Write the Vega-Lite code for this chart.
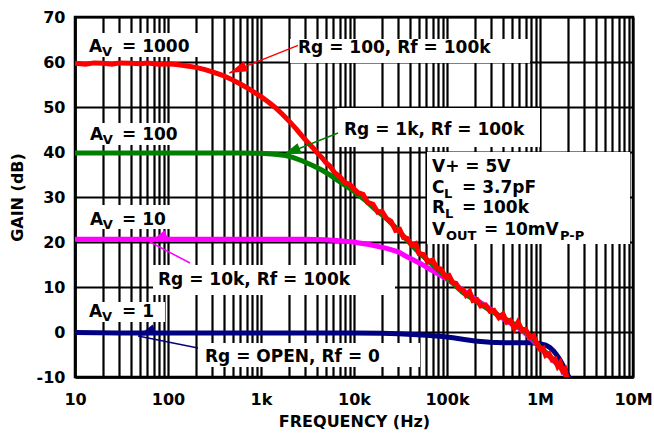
{
  "$schema": "https://vega.github.io/schema/vega-lite/v6.json",
  "width": 558,
  "height": 360,
  "autosize": {"type": "none"},
  "padding": {"left": 75, "top": 17, "right": 21, "bottom": 56},
  "background": "white",
  "config": {
    "font": "DejaVu Sans",
    "view": {"stroke": "black", "strokeWidth": 2.5},
    "axis": {
      "domainColor": "black", "domainWidth": 2.5,
      "gridColor": "black", "gridWidth": 2.2, "gridOpacity": 1,
      "ticks": false,
      "labelFont": "DejaVu Sans", "labelFontWeight": "bold", "labelFontSize": 16, "labelColor": "black",
      "titleFont": "DejaVu Sans", "titleFontWeight": "bold", "titleFontSize": 16, "titleColor": "black",
      "labelOverlap": false, "labelFlush": false
    }
  },
  "datasets": {
    "curves": [
      {"s":"A1","f":10,"g":-0.1},{"s":"A1","f":30,"g":-0.2},{"s":"A1","f":100,"g":-0.2},{"s":"A1","f":1000,"g":-0.2},{"s":"A1","f":10000,"g":-0.2},{"s":"A1","f":20000,"g":-0.3},{"s":"A1","f":30000,"g":-0.4},{"s":"A1","f":60000,"g":-0.7},{"s":"A1","f":90000,"g":-1.0},{"s":"A1","f":116000,"g":-1.3},{"s":"A1","f":160000,"g":-1.7},{"s":"A1","f":200000,"g":-2.0},{"s":"A1","f":290000,"g":-2.3},{"s":"A1","f":400000,"g":-2.4},{"s":"A1","f":600000,"g":-2.4},{"s":"A1","f":800000,"g":-2.4},{"s":"A1","f":1000000,"g":-2.6},{"s":"A1","f":1150000,"g":-2.9},{"s":"A1","f":1270000,"g":-3.4},{"s":"A1","f":1400000,"g":-4.2},{"s":"A1","f":1500000,"g":-5.0},{"s":"A1","f":1640000,"g":-6.2},{"s":"A1","f":1850000,"g":-8.2},{"s":"A1","f":2060000,"g":-10.2},
      {"s":"A10","f":10,"g":20.6},{"s":"A10","f":100,"g":20.6},{"s":"A10","f":1000,"g":20.6},{"s":"A10","f":3000,"g":20.6},{"s":"A10","f":5000,"g":20.5},{"s":"A10","f":7000,"g":20.3},{"s":"A10","f":9800,"g":20.0},{"s":"A10","f":15000,"g":19.4},{"s":"A10","f":22400,"g":18.6},{"s":"A10","f":30000,"g":17.8},{"s":"A10","f":35000,"g":17.0},{"s":"A10","f":51000,"g":15.3},{"s":"A10","f":65000,"g":14.0},{"s":"A10","f":80000,"g":12.9},{"s":"A10","f":116000,"g":10.9},{"s":"A10","f":180000,"g":8.0},{"s":"A10","f":270000,"g":5.6},{"s":"A10","f":350000,"g":3.8},{"s":"A10","f":480000,"g":2.0},{"s":"A10","f":600000,"g":0.8},{"s":"A10","f":800000,"g":-1.4},{"s":"A10","f":1000000,"g":-3.6},{"s":"A10","f":1200000,"g":-5.0},{"s":"A10","f":1400000,"g":-6.4},{"s":"A10","f":1640000,"g":-7.8},{"s":"A10","f":1950000,"g":-10.0},
      {"s":"A100","f":10,"g":39.8},{"s":"A100","f":100,"g":39.8},{"s":"A100","f":300,"g":39.8},{"s":"A100","f":600,"g":39.8},{"s":"A100","f":1000,"g":39.7},{"s":"A100","f":1400,"g":39.5},{"s":"A100","f":1740,"g":39.3},{"s":"A100","f":2200,"g":38.8},{"s":"A100","f":2800,"g":38.0},{"s":"A100","f":3600,"g":37.0},{"s":"A100","f":4500,"g":36.0},{"s":"A100","f":5500,"g":34.9},{"s":"A100","f":7000,"g":33.4},{"s":"A100","f":9800,"g":31.4},{"s":"A100","f":13000,"g":29.4},{"s":"A100","f":17000,"g":27.2},{"s":"A100","f":22400,"g":25.2},{"s":"A100","f":30000,"g":22.6},{"s":"A100","f":37300,"g":20.4},{"s":"A100","f":50000,"g":17.6},{"s":"A100","f":60000,"g":16.2},{"s":"A100","f":78000,"g":14.0},{"s":"A100","f":100000,"g":12.0},{"s":"A100","f":148000,"g":8.8},{"s":"A100","f":200000,"g":7.0},{"s":"A100","f":290000,"g":4.8},{"s":"A100","f":400000,"g":3.2},{"s":"A100","f":610000,"g":1.0},{"s":"A100","f":800000,"g":-1.0},{"s":"A100","f":1000000,"g":-3.4},{"s":"A100","f":1200000,"g":-4.8},{"s":"A100","f":1400000,"g":-6.2},{"s":"A100","f":1640000,"g":-7.6},{"s":"A100","f":1800000,"g":-8.6},{"s":"A100","f":1950000,"g":-10.0},
      {"s":"A1000","f":10,"g":59.7},{"s":"A1000","f":13,"g":59.5},{"s":"A1000","f":16,"g":59.8},{"s":"A1000","f":20,"g":59.7},{"s":"A1000","f":25,"g":59.5},{"s":"A1000","f":30,"g":59.8},{"s":"A1000","f":40,"g":59.7},{"s":"A1000","f":50,"g":59.6},{"s":"A1000","f":60,"g":59.8},{"s":"A1000","f":80,"g":59.5},{"s":"A1000","f":100,"g":59.6},{"s":"A1000","f":130,"g":59.4},{"s":"A1000","f":160,"g":59.1},{"s":"A1000","f":200,"g":58.8},{"s":"A1000","f":250,"g":58.3},{"s":"A1000","f":300,"g":57.8},{"s":"A1000","f":380,"g":57.1},{"s":"A1000","f":464,"g":56.3},{"s":"A1000","f":600,"g":55.1},{"s":"A1000","f":759,"g":53.9},{"s":"A1000","f":1000,"g":52.3},{"s":"A1000","f":1200,"g":51.1},{"s":"A1000","f":1400,"g":50.0},{"s":"A1000","f":1700,"g":48.4},{"s":"A1000","f":2040,"g":46.7},{"s":"A1000","f":2400,"g":45.1},{"s":"A1000","f":2700,"g":43.8},{"s":"A1000","f":3100,"g":42.4},{"s":"A1000","f":3630,"g":40.9},{"s":"A1000","f":4100,"g":39.6},{"s":"A1000","f":4500,"g":38.8},{"s":"A1000","f":5000,"g":37.6},{"s":"A1000","f":5500,"g":36.9},{"s":"A1000","f":6200,"g":35.4},{"s":"A1000","f":7000,"g":34.6},{"s":"A1000","f":8000,"g":33.2},{"s":"A1000","f":9000,"g":32.8},{"s":"A1000","f":9800,"g":32.0},{"s":"A1000","f":11000,"g":31.0},{"s":"A1000","f":12500,"g":30.6},{"s":"A1000","f":14000,"g":28.8},{"s":"A1000","f":16000,"g":28.4},{"s":"A1000","f":18000,"g":26.6},{"s":"A1000","f":20000,"g":26.8},{"s":"A1000","f":22400,"g":25.2},{"s":"A1000","f":25000,"g":24.6},{"s":"A1000","f":28000,"g":22.6},{"s":"A1000","f":31000,"g":22.8},{"s":"A1000","f":34000,"g":21.0},{"s":"A1000","f":37300,"g":20.8},{"s":"A1000","f":42000,"g":19.2},{"s":"A1000","f":46000,"g":19.6},{"s":"A1000","f":50000,"g":17.4},{"s":"A1000","f":56000,"g":17.2},{"s":"A1000","f":62000,"g":15.6},{"s":"A1000","f":70000,"g":16.0},{"s":"A1000","f":78000,"g":14.2},{"s":"A1000","f":86000,"g":14.0},{"s":"A1000","f":95000,"g":12.4},{"s":"A1000","f":105000,"g":12.6},{"s":"A1000","f":115000,"g":11.0},{"s":"A1000","f":125000,"g":10.8},{"s":"A1000","f":135000,"g":9.6},{"s":"A1000","f":148000,"g":9.4},{"s":"A1000","f":160000,"g":8.2},{"s":"A1000","f":175000,"g":9.0},{"s":"A1000","f":190000,"g":7.0},{"s":"A1000","f":210000,"g":7.2},{"s":"A1000","f":230000,"g":5.8},{"s":"A1000","f":260000,"g":6.0},{"s":"A1000","f":290000,"g":4.6},{"s":"A1000","f":320000,"g":4.8},{"s":"A1000","f":360000,"g":3.2},{"s":"A1000","f":400000,"g":4.0},{"s":"A1000","f":440000,"g":2.2},{"s":"A1000","f":480000,"g":2.6},{"s":"A1000","f":530000,"g":0.8},{"s":"A1000","f":580000,"g":2.2},{"s":"A1000","f":640000,"g":0.4},{"s":"A1000","f":700000,"g":0.6},{"s":"A1000","f":780000,"g":-1.2},{"s":"A1000","f":850000,"g":-0.8},{"s":"A1000","f":920000,"g":-2.4},{"s":"A1000","f":1000000,"g":-3.8},{"s":"A1000","f":1080000,"g":-3.6},{"s":"A1000","f":1150000,"g":-5.2},{"s":"A1000","f":1250000,"g":-4.8},{"s":"A1000","f":1350000,"g":-6.2},{"s":"A1000","f":1450000,"g":-6.0},{"s":"A1000","f":1550000,"g":-7.6},{"s":"A1000","f":1650000,"g":-6.8},{"s":"A1000","f":1750000,"g":-8.6},{"s":"A1000","f":1850000,"g":-8.2},{"s":"A1000","f":1950000,"g":-10.2}
    ],
    "boxes": [
      {"f1":11.32,"f2":220.8,"g1":66.44,"g2":61.11},
      {"f1":2051,"f2":780000,"g1":65.11,"g2":59.78},
      {"f1":11.32,"f2":185.7,"g1":46.44,"g2":41.56},
      {"f1":6563,"f2":1000000,"g1":49.78,"g2":41.11},
      {"f1":60950,"f2":9290000,"g1":40.0,"g2":19.56},
      {"f1":11.32,"f2":128,"g1":28.2,"g2":22.9},
      {"f1":69.0,"f2":27600,"g1":14.89,"g2":8.22},
      {"f1":11.32,"f2":92.8,"g1":6.67,"g2":2.22},
      {"f1":220.8,"f2":51300,"g1":-2.44,"g2":-7.78}
    ],
    "arrows": [
      {"a":"A1000","f1":2500,"g1":63.7,"f2":457,"g2":57.56},
      {"a":"A100","f1":6730,"g1":44.22,"f2":1724,"g2":39.33},
      {"a":"A10","f1":172.4,"g1":15.33,"f2":64.0,"g2":20.0},
      {"a":"A1","f1":210.2,"g1":-3.56,"f2":47.6,"g2":-0.89}
    ],
    "labels": [
      {"k":"main","t":"A","f":14.14,"g":62.22},
      {"k":"main","t":"= 1000","f":32.02,"g":62.22},
      {"k":"main","t":"A","f":14.5,"g":42.67},
      {"k":"main","t":"= 100","f":32.02,"g":42.67},
      {"k":"main","t":"A","f":14.5,"g":23.78},
      {"k":"main","t":"= 10","f":32.02,"g":23.78},
      {"k":"main","t":"A","f":14.14,"g":3.33},
      {"k":"main","t":"= 1","f":32.02,"g":3.33},
      {"k":"main","t":"Rg = 100, Rf = 100k","f":2499,"g":62.0},
      {"k":"main","t":"Rg = 1k, Rf = 100k","f":7808,"g":43.78},
      {"k":"main","t":"Rg = 10k, Rf = 100k","f":78.1,"g":10.44},
      {"k":"main","t":"Rg = OPEN, Rf = 0","f":250,"g":-6.67},
      {"k":"main","t":"V+ = 5V","f":68990,"g":35.56},
      {"k":"main","t":"C","f":68990,"g":30.89},
      {"k":"main","t":"= 3.7pF","f":145000,"g":30.89},
      {"k":"main","t":"R","f":68990,"g":26.44},
      {"k":"main","t":"= 100k","f":145000,"g":26.44},
      {"k":"main","t":"V","f":68990,"g":21.56},
      {"k":"main","t":"= 10mV","f":250000,"g":21.56},
      {"k":"sub","t":"V","f":19.5,"g":61.33},
      {"k":"sub","t":"V","f":19.9,"g":41.78},
      {"k":"sub","t":"V","f":19.9,"g":22.89},
      {"k":"sub","t":"V","f":19.5,"g":2.44},
      {"k":"sub","t":"L","f":92900,"g":29.78},
      {"k":"sub","t":"L","f":95170,"g":25.33},
      {"k":"sub","t":"OUT","f":97500,"g":20.44},
      {"k":"sub","t":"P-P","f":1641000,"g":20.44}
    ]
  },
  "layer": [
    {
      "data": {"name": "boxes"},
      "mark": {"type": "rect", "fill": "white", "stroke": null},
      "encoding": {
        "x": {"field": "f1", "type": "quantitative",
          "scale": {"type": "log", "domain": [10, 10000000]},
          "axis": {
            "title": "FREQUENCY (Hz)",
            "values": [10,20,30,40,50,60,70,80,90,100,200,300,400,500,600,700,800,900,1000,2000,3000,4000,5000,6000,7000,8000,9000,10000,20000,30000,40000,50000,60000,70000,80000,90000,100000,200000,300000,400000,500000,600000,700000,800000,900000,1000000,2000000,3000000,4000000,5000000,6000000,7000000,8000000,9000000,10000000],
            "labelExpr": "datum.value==10?'10':datum.value==100?'100':datum.value==1000?'1k':datum.value==10000?'10k':datum.value==100000?'100k':datum.value==1000000?'1M':datum.value==10000000?'10M':''",
            "labelPadding": 14,
            "titlePadding": 6
          }
        },
        "x2": {"field": "f2"},
        "y": {"field": "g1", "type": "quantitative",
          "scale": {"domain": [-10, 70], "nice": false},
          "axis": {
            "title": "GAIN (dB)",
            "values": [-10,-5,0,5,10,15,20,25,30,35,40,45,50,55,60,65,70],
            "labelExpr": "datum.value % 10 != 0 ? '' : (datum.value < 0 ? '-' + abs(datum.value) : '' + datum.value)",
            "labelPadding": 10,
            "titlePadding": 11
          }
        },
        "y2": {"field": "g2"}
      }
    },
    {
      "data": {"name": "curves"},
      "transform": [{"filter": "datum.s == 'A1'"}],
      "mark": {"type": "line", "strokeWidth": 5, "clip": true},
      "encoding": {
        "x": {"field": "f", "type": "quantitative"},
        "y": {"field": "g", "type": "quantitative"},
        "color": {"field": "s", "type": "nominal", "legend": null,
          "scale": {"domain": ["A1000", "A100", "A10", "A1"], "range": ["#ff0000", "#008000", "#ff00ff", "#000080"]}}
      }
    },
    {
      "data": {"name": "curves"},
      "transform": [{"filter": "datum.s == 'A10'"}],
      "mark": {"type": "line", "strokeWidth": 5, "clip": true},
      "encoding": {
        "x": {"field": "f", "type": "quantitative"},
        "y": {"field": "g", "type": "quantitative"},
        "color": {"field": "s", "type": "nominal", "legend": null}
      }
    },
    {
      "data": {"name": "curves"},
      "transform": [{"filter": "datum.s == 'A100'"}],
      "mark": {"type": "line", "strokeWidth": 5, "clip": true},
      "encoding": {
        "x": {"field": "f", "type": "quantitative"},
        "y": {"field": "g", "type": "quantitative"},
        "color": {"field": "s", "type": "nominal", "legend": null}
      }
    },
    {
      "data": {"name": "curves"},
      "transform": [{"filter": "datum.s == 'A1000'"}],
      "mark": {"type": "line", "strokeWidth": 5, "clip": true},
      "encoding": {
        "x": {"field": "f", "type": "quantitative"},
        "y": {"field": "g", "type": "quantitative"},
        "color": {"field": "s", "type": "nominal", "legend": null}
      }
    },
    {
      "data": {"name": "arrows"},
      "mark": {"type": "rule", "strokeWidth": 1.5},
      "encoding": {
        "x": {"field": "f1", "type": "quantitative"},
        "y": {"field": "g1", "type": "quantitative"},
        "x2": {"field": "f2"},
        "y2": {"field": "g2"},
        "color": {"field": "a", "type": "nominal", "legend": null}
      }
    },
    {
      "data": {"name": "arrows"},
      "mark": {"type": "point", "filled": true, "opacity": 1, "shape": "M0,0L0.6,2L-0.6,2Z", "size": 320},
      "encoding": {
        "x": {"field": "f2", "type": "quantitative"},
        "y": {"field": "g2", "type": "quantitative"},
        "color": {"field": "a", "type": "nominal", "legend": null},
        "angle": {"field": "a", "type": "nominal", "legend": null,
          "scale": {"domain": ["A1000", "A100", "A10", "A1"], "range": [247.6, 248.2, 297.7, 281.3]}}
      }
    },
    {
      "data": {"name": "labels"},
      "transform": [{"filter": "datum.k == 'main'"}],
      "mark": {"type": "text", "align": "left", "baseline": "alphabetic", "fontSize": 17, "fontWeight": "bold", "font": "DejaVu Sans", "color": "black"},
      "encoding": {
        "x": {"field": "f", "type": "quantitative"},
        "y": {"field": "g", "type": "quantitative"},
        "text": {"field": "t", "type": "nominal"}
      }
    },
    {
      "data": {"name": "labels"},
      "transform": [{"filter": "datum.k == 'sub'"}],
      "mark": {"type": "text", "align": "left", "baseline": "alphabetic", "fontSize": 13, "fontWeight": "bold", "font": "DejaVu Sans", "color": "black"},
      "encoding": {
        "x": {"field": "f", "type": "quantitative"},
        "y": {"field": "g", "type": "quantitative"},
        "text": {"field": "t", "type": "nominal"}
      }
    }
  ]
}
